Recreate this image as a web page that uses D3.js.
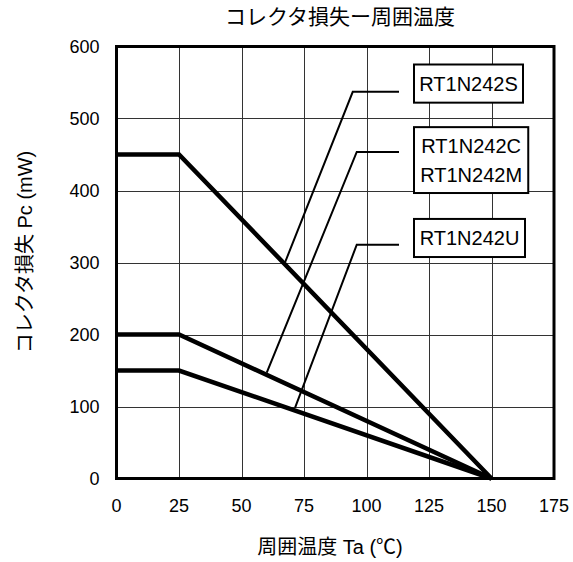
<!DOCTYPE html>
<html>
<head>
<meta charset="utf-8">
<script src="https://cdn.jsdelivr.net/npm/d3@7"></script>
<style>
  body { margin: 0; background: #fff; }
  text { font-family: "Liberation Sans", Arial, "Noto Sans CJK JP", sans-serif; fill: #000; }
</style>
</head>
<body>
<div id="chart"></div>
<script>
const width = 573, height = 562;

// derating curves: temperature (°C) vs collector loss (mW)
const temps = [0, 25, 150];
const lossS = [450, 450, 0];
const lossCM = [200, 200, 0];
const lossU = [150, 150, 0];
const xTicks = [0, 25, 50, 75, 100, 125, 150, 175];
const yTicks = [0, 100, 200, 300, 400, 500, 600];

const titleText = "コレクタ損失ー周囲温度";
const xTitle = "周囲温度 Ta (℃)";
const yTitle = "コレクタ損失 Pc (mW)";

// part-number labels with leader lines (data units)
const labels = [
  { names: ["RT1N242S"], box: [119, 162.6, 575, 522], leader: [[113, 537], [94.5, 537], [67.4, 300]] },
  { names: ["RT1N242C", "RT1N242M"], box: [119, 164.7, 488, 396.5], leader: [[113, 453.5], [96.1, 453.5], [60.1, 147]] },
  { names: ["RT1N242U"], box: [119, 163.4, 360.5, 307.6], leader: [[113, 324.7], [96.1, 324.7], [71.4, 98]] }
];

const margin = { top: 46.5, right: 19, bottom: 83.5, left: 116.5 };

const svg = d3.select("#chart").append("svg")
    .attr("width", width)
    .attr("height", height);

const x = d3.scaleLinear().domain([0, 175]).range([margin.left, width - margin.right]);
const y = d3.scaleLinear().domain([0, 600]).range([height - margin.bottom, margin.top]);

// grid
svg.append("g")
    .selectAll("line")
    .data(xTicks.slice(1, -1))
    .enter().append("line")
    .attr("x1", d => Math.round(x(d)) + 0.5).attr("x2", d => Math.round(x(d)) + 0.5)
    .attr("y1", y(600)).attr("y2", y(0))
    .attr("stroke", "#333").attr("stroke-width", 1);
svg.append("g")
    .selectAll("line")
    .data(yTicks.slice(1, -1))
    .enter().append("line")
    .attr("y1", d => Math.round(y(d)) + 0.5).attr("y2", d => Math.round(y(d)) + 0.5)
    .attr("x1", x(0)).attr("x2", x(175))
    .attr("stroke", "#333").attr("stroke-width", 1);

// leader lines
const line = d3.line().x(d => x(d[0])).y(d => y(d[1]));
svg.append("g")
    .selectAll("path")
    .data(labels)
    .enter().append("path")
    .attr("d", d => line(d.leader))
    .attr("fill", "none")
    .attr("stroke", "#000")
    .attr("stroke-width", 2);

// label boxes
const boxes = svg.append("g")
    .selectAll("g")
    .data(labels)
    .enter().append("g");
boxes.append("rect")
    .attr("x", d => x(d.box[0]))
    .attr("y", d => y(d.box[2]))
    .attr("width", d => x(d.box[1]) - x(d.box[0]))
    .attr("height", d => y(d.box[3]) - y(d.box[2]))
    .attr("fill", "#fff")
    .attr("stroke", "#000")
    .attr("stroke-width", 2);
boxes.each(function (d) {
    const cx = (x(d.box[0]) + x(d.box[1])) / 2;
    const cy = (y(d.box[2]) + y(d.box[3])) / 2;
    const n = d.names.length;
    d3.select(this).selectAll("text")
        .data(d.names)
        .enter().append("text")
        .attr("x", cx)
        .attr("y", (t, i) => cy + (i - (n - 1) / 2) * 29 + 7.5)
        .attr("text-anchor", "middle")
        .style("font-size", "20px")
        .text(t => t);
});

// curves
[lossS, lossCM, lossU].forEach(series => {
    svg.append("path")
        .datum(temps.map((t, i) => [t, series[i]]))
        .attr("d", line)
        .attr("fill", "none")
        .attr("stroke", "#000")
        .attr("stroke-width", 4.5)
        .attr("stroke-linejoin", "miter");
});

// frame
svg.append("rect")
    .attr("x", x(0)).attr("y", y(600))
    .attr("width", x(175) - x(0)).attr("height", y(0) - y(600))
    .attr("fill", "none")
    .attr("stroke", "#000")
    .attr("stroke-width", 3);

// tick labels
svg.append("g")
    .selectAll("text")
    .data(xTicks)
    .enter().append("text")
    .attr("x", d => x(d))
    .attr("y", y(0) + 33.5)
    .attr("text-anchor", "middle")
    .style("font-size", "18px")
    .text(d => d);
svg.append("g")
    .selectAll("text")
    .data(yTicks)
    .enter().append("text")
    .attr("x", x(0) - 17)
    .attr("y", d => y(d) + 6.5)
    .attr("text-anchor", "end")
    .style("font-size", "18px")
    .text(d => d);

// titles
svg.append("text")
    .attr("x", 340).attr("y", 24)
    .attr("text-anchor", "middle")
    .style("font-size", "21px")
    .text(titleText);
svg.append("text")
    .attr("x", 330).attr("y", 554)
    .attr("text-anchor", "middle")
    .style("font-size", "20px")
    .text(xTitle);
svg.append("text")
    .attr("transform", "translate(32," + 252 + ") rotate(-90)")
    .attr("text-anchor", "middle")
    .style("font-size", "20px")
    .text(yTitle);
</script>
</body>
</html>
